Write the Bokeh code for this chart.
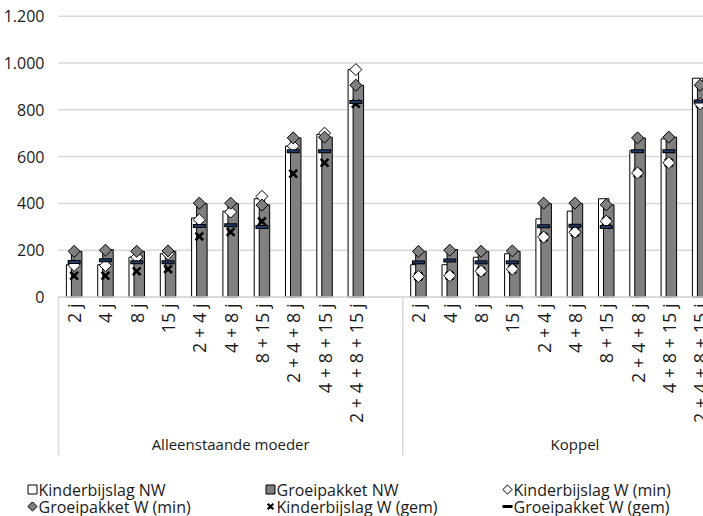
import numpy as np
from bokeh.plotting import figure
from bokeh.models import Range1d
from bokeh.core.properties import value
from bokeh.embed import file_html
from bokeh.resources import INLINE

# Household compositions (ages of the children) and the two household types
categories = ["2 j", "4 j", "8 j", "15 j", "2 + 4 j", "4 + 8 j", "8 + 15 j",
              "2 + 4 + 8 j", "4 + 8 + 15 j", "2 + 4 + 8 + 15 j"]
groups = ["Alleenstaande moeder", "Koppel"]

# Alleenstaande moeder
kb_nw_am = [138, 138, 170, 185, 338, 367, 420, 645, 695, 972]
gp_nw_am = [195, 203, 195, 195, 399, 399, 394, 680, 683, 905]
kb_w_min_am = [135, 135, 170, 185, 330, 363, 430, 645, 700, 972]
gp_w_min_am = [195, 200, 195, 197, 401, 401, 393, 680, 683, 905]
kb_w_gem_am = [91, 91, 110, 119, 259, 278, 323, 527, 574, 826]
gp_w_gem_am = [150, 157, 148, 148, 303, 307, 299, 623, 623, 833]

# Koppel
kb_nw_k = [138, 138, 170, 185, 334, 367, 420, 626, 676, 935]
gp_nw_k = [195, 203, 195, 195, 399, 399, 394, 680, 683, 905]
kb_w_min_k = [88, 91, 110, 119, 256, 277, 324, 530, 574, 826]
gp_w_min_k = [195, 200, 195, 197, 401, 401, 394, 680, 683, 905]
kb_w_gem_k = [88, 91, 110, 119, 256, 277, 324, 530, 574, 826]
gp_w_gem_k = [148, 156, 148, 148, 302, 305, 299, 623, 623, 836]

y_ticks = [0, 200, 400, 600, 800, 1000, 1200]
y_tick_labels = ["0", "200", "400", "600", "800", "1.000", "1.200"]

legend_labels = ["Kinderbijslag NW", "Groeipakket NW", "Kinderbijslag W (min)",
                 "Groeipakket W (min)", "Kinderbijslag W (gem)", "Groeipakket W (gem)"]

FONT = "Open Sans"
GREY = "#808080"
NAVY = "#1f3864"
LIGHT = "#d9d9d9"
TEXT = "#1a1a1a"

W, H = 703, 516
PLOT_LEFT = 58.0      # pixel column of the first slot edge
SLOT_PX = 31.3        # pixels per category slot
ZERO_PX = 296.5       # pixel row of value 0
UNIT_PX = 280.8 / 1200  # pixels per euro

n = len(categories)
slot = n + 1                      # each group ends with one empty slot
x_am = np.arange(n)
x_k = np.arange(n) + slot
x = np.concatenate([x_am, x_k])

kb_nw = kb_nw_am + kb_nw_k
gp_nw = gp_nw_am + gp_nw_k
kb_w_min = kb_w_min_am + kb_w_min_k
gp_w_min = gp_w_min_am + gp_w_min_k
kb_w_gem = kb_w_gem_am + kb_w_gem_k
gp_w_gem = gp_w_gem_am + gp_w_gem_k


def px_x(px):
    """Canvas column -> x coordinate."""
    return -0.5 + (px - PLOT_LEFT) / SLOT_PX


def px_y(py):
    """Canvas row -> y coordinate."""
    return (ZERO_PX - py) / UNIT_PX


p = figure(width=W, height=H, output_backend="svg", toolbar_location=None,
           x_range=Range1d(px_x(0), px_x(W)), y_range=Range1d(px_y(H), px_y(0)),
           min_border=0)
p.outline_line_color = None
p.axis.visible = False
p.grid.visible = False
p.background_fill_color = "white"
p.border_fill_color = "white"

x_left = -0.5
x_right = 2 * slot - 0.5

# horizontal gridlines and value labels
p.segment(x0=x_left, x1=x_right, y0=y_ticks, y1=y_ticks,
          line_color=LIGHT, line_width=1.5)
p.text(x=px_x(44), y=y_ticks, text=y_tick_labels, text_align="right",
       text_baseline="middle", text_font=value(FONT), text_font_size="16px",
       text_color=TEXT)

# category axis: group separators
p.segment(x0=[x_left, slot - 0.5], x1=[x_left, slot - 0.5],
          y0=0, y1=px_y(455), line_color=LIGHT, line_width=1.5)

bar_w = 0.335
off = 0.08
p.vbar(x=x - off, top=kb_nw, width=bar_w, bottom=0,
       fill_color="white", line_color="black", line_width=1)
p.vbar(x=x + off, top=gp_nw, width=bar_w, bottom=0,
       fill_color=GREY, line_color="black", line_width=1)

p.scatter(x, kb_w_gem, marker="x", size=11, line_color="black", line_width=2.6)
p.scatter(x, kb_w_min, marker="square", angle=np.pi / 4, size=8.5,
          fill_color="white", line_color="black", line_width=1)
p.scatter(x, gp_w_min, marker="square", angle=np.pi / 4, size=8.5,
          fill_color=GREY, line_color="black", line_width=1)
p.scatter(x, gp_w_gem, marker="dash", size=13, line_color="black", line_width=4)
p.scatter(x, gp_w_gem, marker="dash", size=11, line_color=NAVY, line_width=2)

# category axis baseline
p.segment(x0=x_left, x1=x_right, y0=0, y1=0, line_color=LIGHT, line_width=1.5)

# category labels, read bottom to top
p.text(x=x, y=px_y(303), text=[categories[i % n] for i in range(len(x))],
       angle=np.pi / 2, text_align="right", text_baseline="middle",
       text_font=value(FONT), text_font_size="18px", text_color=TEXT)

# group labels
p.text(x=[(slot - 1) / 2, slot + (slot - 1) / 2], y=px_y(443), text=groups,
       text_align="center", text_baseline="middle",
       text_font=value(FONT), text_font_size="15px", text_color=TEXT)

# legend: three columns, two rows
col_px = [32, 270, 507]
row_px = [489, 506]
lx = [px_x(col_px[i % 3]) for i in range(6)]
ly = [px_y(row_px[i // 3]) for i in range(6)]

p.scatter([lx[0]], [ly[0]], marker="square", size=9, fill_color="white",
          line_color="black", line_width=1)
p.scatter([lx[1]], [ly[1]], marker="square", size=9, fill_color=GREY,
          line_color="black", line_width=1)
p.scatter([lx[2]], [ly[2]], marker="square", angle=np.pi / 4, size=6.5,
          fill_color="white", line_color="black", line_width=1)
p.scatter([lx[3]], [ly[3]], marker="square", angle=np.pi / 4, size=6.5,
          fill_color=GREY, line_color="black", line_width=1)
p.scatter([lx[4]], [ly[4]], marker="x", size=8, line_color="black", line_width=2.2)
p.scatter([lx[5]], [ly[5]], marker="dash", size=10, line_color="black", line_width=3)

p.text(x=[v + 6 / SLOT_PX for v in lx], y=ly, text=legend_labels,
       text_font=value(FONT), text_font_size="16px", text_color=TEXT,
       text_baseline="middle", text_align="left")

open("out.html", "w").write(file_html(p, INLINE))
